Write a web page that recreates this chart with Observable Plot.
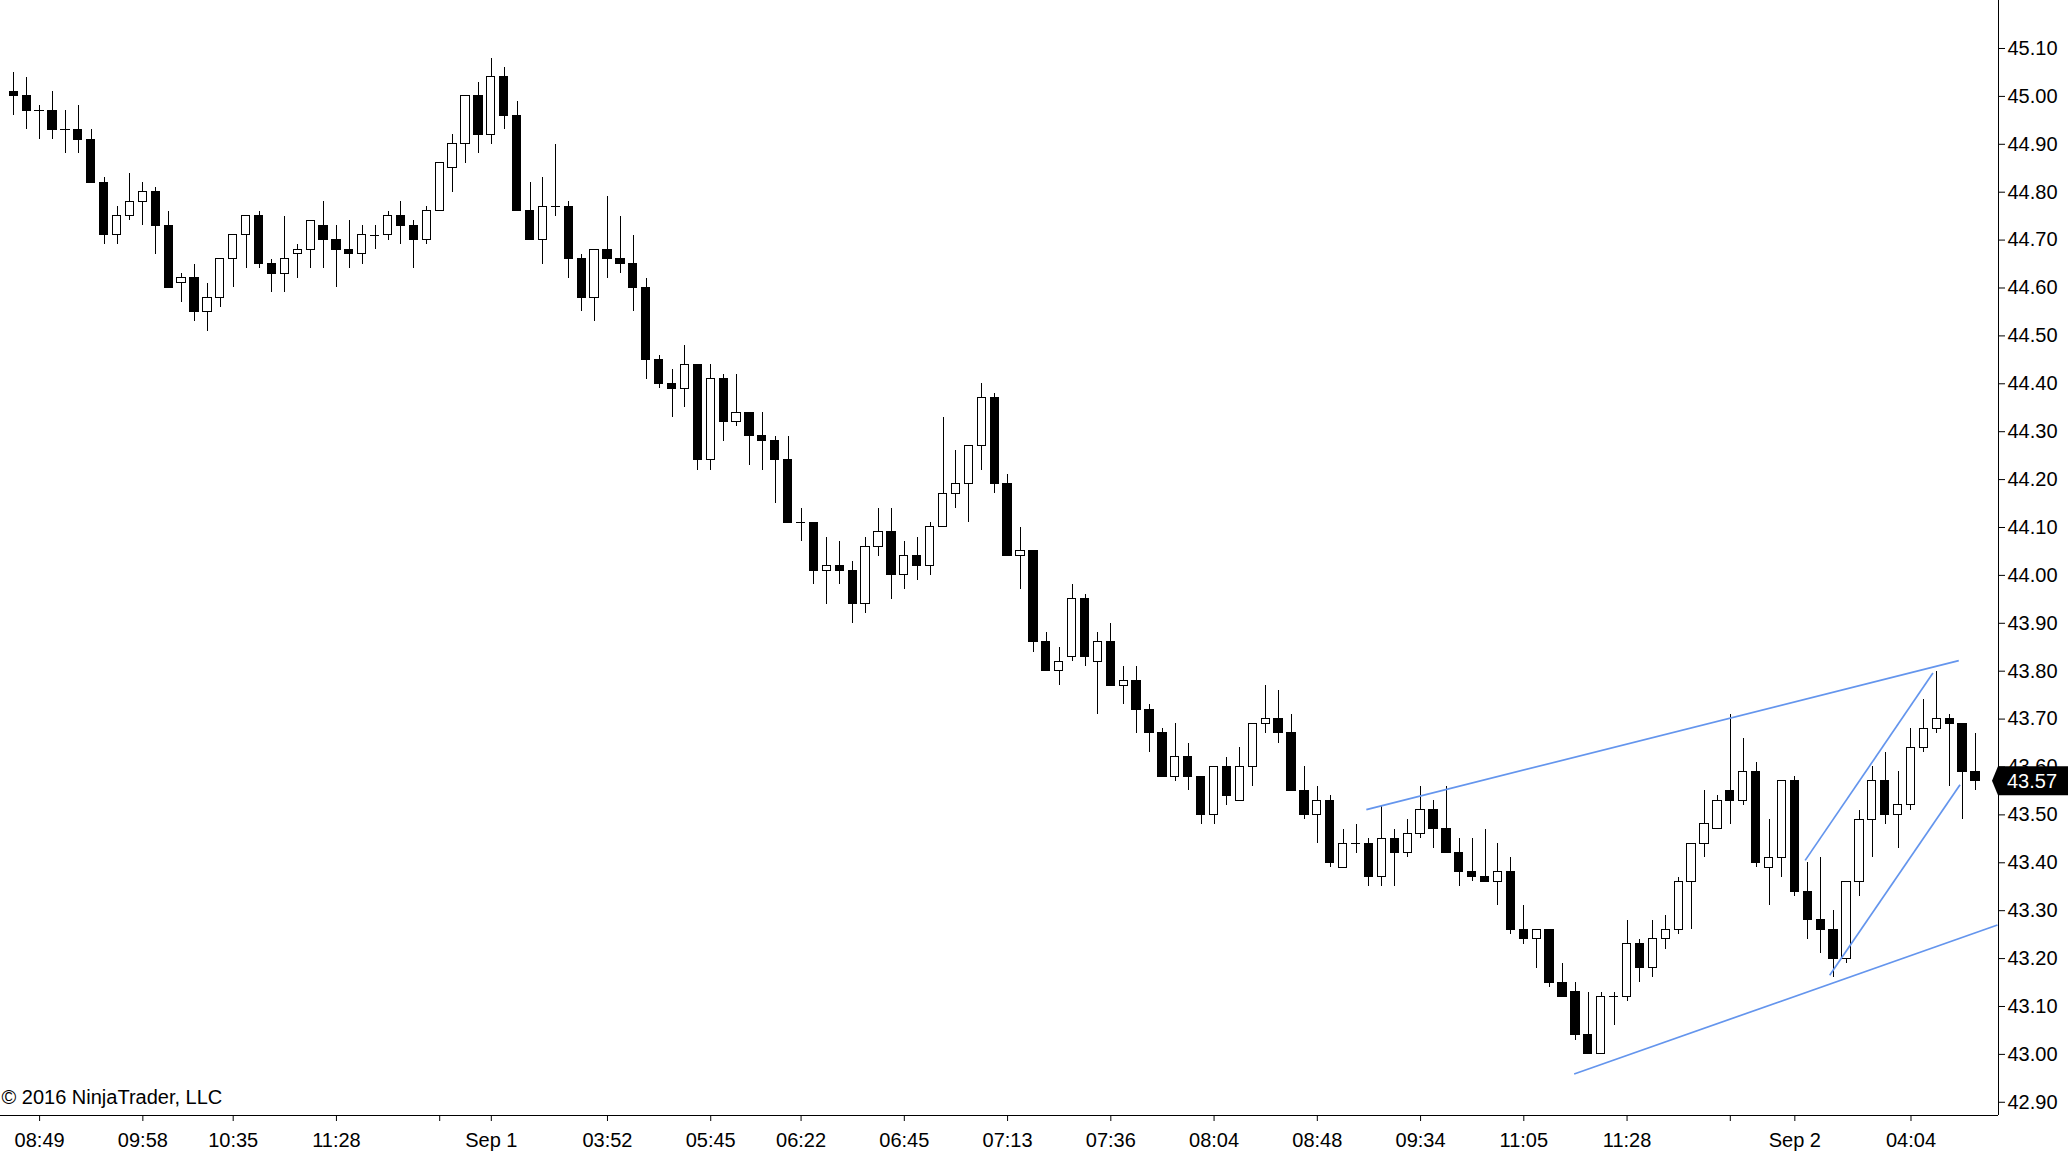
<!DOCTYPE html>
<html><head><meta charset="utf-8">
<script src="https://cdn.jsdelivr.net/npm/d3@7"></script>
<script src="https://cdn.jsdelivr.net/npm/@observablehq/plot@0.6"></script>
<style>html,body{margin:0;padding:0;background:#fff;overflow:hidden} svg{display:block}</style>
</head><body><div id="chart"></div>
<script>
// OHLC of 153 bars
const opens = [45.01,45.00,44.97,44.97,44.93,44.93,44.91,44.82,44.71,44.75,44.78,44.80,44.73,44.61,44.62,44.55,44.58,44.66,44.71,44.75,
44.65,44.63,44.67,44.68,44.73,44.70,44.68,44.67,44.71,44.71,44.75,44.73,44.70,44.76,44.85,44.90,45.00,44.92,45.04,44.96,
44.76,44.70,44.77,44.77,44.66,44.58,44.68,44.66,44.65,44.60,44.45,44.40,44.39,44.44,44.24,44.41,44.32,44.34,44.29,44.28,
44.24,44.11,44.11,44.01,44.02,44.01,43.94,44.06,44.09,44.00,44.04,44.02,44.10,44.17,44.19,44.27,44.37,44.19,44.04,44.05,
43.86,43.80,43.83,43.95,43.82,43.86,43.77,43.78,43.72,43.67,43.58,43.62,43.58,43.50,43.60,43.53,43.60,43.69,43.70,43.67,
43.55,43.50,43.53,43.39,43.44,43.44,43.37,43.45,43.42,43.46,43.51,43.47,43.42,43.38,43.37,43.36,43.38,43.26,43.24,43.26,
43.15,43.13,43.04,43.00,43.12,43.12,43.23,43.18,43.24,43.26,43.36,43.44,43.47,43.55,43.53,43.59,43.39,43.41,43.57,43.34,
43.28,43.26,43.20,43.36,43.49,43.57,43.50,43.52,43.64,43.68,43.70,43.69,43.59];
const highs = [45.05,45.04,44.98,45.01,44.97,44.98,44.93,44.83,44.77,44.84,44.82,44.81,44.76,44.63,44.65,44.61,44.66,44.71,44.75,44.76,
44.66,44.75,44.69,44.74,44.78,44.73,44.74,44.73,44.73,44.76,44.78,44.74,44.77,44.86,44.92,45.00,45.03,45.08,45.06,44.99,
44.82,44.83,44.90,44.78,44.67,44.68,44.79,44.75,44.71,44.62,44.46,44.43,44.48,44.44,44.44,44.42,44.42,44.34,44.34,44.29,
44.29,44.14,44.11,44.08,44.07,44.03,44.08,44.14,44.14,44.07,44.08,44.11,44.33,44.26,44.27,44.40,44.38,44.21,44.10,44.05,
43.88,43.85,43.98,43.96,43.88,43.90,43.81,43.81,43.73,43.68,43.69,43.65,43.58,43.60,43.62,43.64,43.69,43.77,43.76,43.71,
43.60,43.56,43.54,43.47,43.48,43.45,43.52,43.47,43.49,43.56,43.53,43.56,43.45,43.45,43.47,43.44,43.41,43.31,43.26,43.26,
43.19,43.15,43.13,43.13,43.13,43.28,43.24,43.28,43.29,43.37,43.44,43.55,43.54,43.71,43.66,43.61,43.49,43.57,43.58,43.40,
43.41,43.30,43.36,43.51,43.60,43.63,43.59,43.68,43.74,43.80,43.71,43.69,43.67];
const lows = [44.96,44.93,44.91,44.91,44.88,44.88,44.82,44.69,44.69,44.74,44.73,44.67,44.60,44.57,44.53,44.51,44.56,44.60,44.64,44.64,
44.59,44.59,44.62,44.64,44.64,44.60,44.64,44.65,44.68,44.70,44.69,44.64,44.69,44.76,44.80,44.86,44.88,44.90,44.93,44.76,
44.70,44.65,44.75,44.62,44.55,44.53,44.62,44.63,44.55,44.41,44.39,44.33,44.35,44.22,44.22,44.28,44.31,44.23,44.22,44.15,
44.11,44.07,43.98,43.94,43.98,43.90,43.92,44.04,43.95,43.97,43.99,44.00,44.10,44.14,44.11,44.22,44.17,44.04,43.97,43.84,
43.80,43.77,43.82,43.81,43.71,43.77,43.73,43.67,43.63,43.58,43.57,43.55,43.48,43.48,43.52,43.53,43.56,43.67,43.65,43.55,
43.49,43.44,43.39,43.39,43.42,43.35,43.35,43.35,43.41,43.45,43.43,43.42,43.35,43.36,43.36,43.31,43.25,43.23,43.18,43.14,
43.12,43.03,43.00,43.00,43.06,43.11,43.15,43.16,43.22,43.25,43.26,43.41,43.47,43.48,43.52,43.39,43.31,43.37,43.33,43.24,
43.21,43.16,43.19,43.33,43.41,43.48,43.43,43.51,43.63,43.67,43.56,43.49,43.55];
const closes = [45.00,44.97,44.97,44.93,44.93,44.91,44.82,44.71,44.75,44.78,44.80,44.73,44.60,44.62,44.55,44.58,44.66,44.71,44.75,44.65,
44.63,44.66,44.68,44.74,44.70,44.68,44.67,44.71,44.71,44.75,44.73,44.70,44.76,44.86,44.90,45.00,44.92,45.04,44.96,44.76,
44.70,44.77,44.77,44.66,44.58,44.68,44.66,44.65,44.60,44.45,44.40,44.39,44.44,44.24,44.41,44.32,44.34,44.29,44.28,44.24,
44.11,44.11,44.01,44.02,44.01,43.94,44.06,44.09,44.00,44.04,44.02,44.10,44.17,44.19,44.27,44.37,44.19,44.04,44.05,43.86,
43.80,43.82,43.95,43.83,43.86,43.77,43.78,43.72,43.67,43.58,43.62,43.58,43.50,43.60,43.54,43.60,43.69,43.70,43.67,43.55,
43.50,43.53,43.40,43.44,43.44,43.37,43.45,43.42,43.46,43.51,43.47,43.42,43.38,43.37,43.36,43.38,43.26,43.24,43.26,43.15,
43.12,43.04,43.00,43.12,43.12,43.23,43.18,43.24,43.26,43.36,43.44,43.48,43.53,43.53,43.59,43.40,43.41,43.57,43.34,43.28,
43.26,43.20,43.36,43.49,43.57,43.50,43.52,43.64,43.68,43.70,43.69,43.59,43.57];

// x-axis ticks (bar index) and their labels
const xTickIdx = [2,10,17,25,33,37,46,54,61,69,77,85,93,101,109,117,125,133,138,147];
const xTickLabels = ["08:49","09:58","10:35","11:28","","Sep 1","03:52","05:45","06:22","06:45","07:13","07:36","08:04","08:48","09:34","11:05","11:28","","Sep 2","04:04"];
// y-axis ticks
const yTicks = [42.9,43.0,43.1,43.2,43.3,43.4,43.5,43.6,43.7,43.8,43.9,44.0,44.1,44.2,44.3,44.4,44.5,44.6,44.7,44.8,44.9,45.0,45.1];

// drawn trend lines (bar index, price)
const trendX1 = [104.8,120.9,138.8,140.7];
const trendY1 = [43.511,42.959,43.405,43.165];
const trendX2 = [150.7,153.7,148.7,150.8];
const trendY2 = [43.822,43.270,43.796,43.563];

const copyright = "© 2016 NinjaTrader, LLC";

const xDomain = [-1.03, 153.78];
const yDomain = [42.8724, 45.2002];

const bars = opens.map((o, i) => ({i, o, h: highs[i], l: lows[i], c: closes[i]}));
const upBodies = bars.filter(d => d.c > d.o);
const downBodies = bars.filter(d => d.c < d.o);
const dojis = bars.filter(d => d.c === d.o);
const lines = trendX1.map((x1, k) => ({x1, y1: trendY1[k], x2: trendX2[k], y2: trendY2[k]}));
const tickLabel = new Map(xTickIdx.map((d, k) => [d, xTickLabels[k]]));

const font = "'Liberation Sans', Arial, sans-serif";
const hw = 0.32;

const chart = Plot.plot({
  width: 2068, height: 1158,
  marginLeft: 0, marginRight: 70, marginTop: 0, marginBottom: 43,
  style: {fontFamily: font, fontSize: "20px", color: "#000", background: "#fff"},
  x: {type: "linear", domain: xDomain},
  y: {type: "linear", domain: yDomain},
  marks: [
    Plot.ruleX(bars, {x: "i", y1: "l", y2: "h", stroke: "#000", strokeWidth: 1, shapeRendering: "crispEdges"}),
    Plot.rect(upBodies, {x1: d => d.i - hw, x2: d => d.i + hw, y1: "o", y2: "c", fill: "#fff", stroke: "#000", strokeWidth: 1, shapeRendering: "crispEdges"}),
    Plot.rect(downBodies, {x1: d => d.i - hw, x2: d => d.i + hw, y1: "o", y2: "c", fill: "#000", stroke: "#000", strokeWidth: 1, shapeRendering: "crispEdges"}),
    Plot.ruleY(dojis, {y: "o", x1: d => d.i - hw - 0.04, x2: d => d.i + hw + 0.04, stroke: "#000", strokeWidth: 1, shapeRendering: "crispEdges"}),
    Plot.link(lines, {x1: "x1", y1: "y1", x2: "x2", y2: "y2", stroke: "#6495ed", strokeWidth: 1.7}),
    Plot.axisY({anchor: "right", ticks: yTicks, tickFormat: d => d.toFixed(2), tickSize: 6, tickPadding: 3, fontSize: 20, label: null, stroke: "#000"}),
    Plot.axisX({anchor: "bottom", ticks: xTickIdx, tickFormat: d => tickLabel.get(d), tickSize: 6, tickPadding: 11, fontSize: 20, label: null, stroke: "#000"}),
    Plot.ruleX([xDomain[1]], {stroke: "#000", strokeWidth: 1, shapeRendering: "crispEdges"}),
    Plot.ruleY([yDomain[0]], {stroke: "#000", strokeWidth: 1, shapeRendering: "crispEdges"}),
    Plot.text([copyright], {text: d => d, frameAnchor: "bottom-left", textAnchor: "start", dy: -12, dx: 1, fontSize: 20, fill: "#000"})
  ]
});

// last price marker, positioned through the plot's own scales
const xs = chart.scale("x"), ys = chart.scale("y");
const last = closes[closes.length - 1];
const yy = ys.apply(last);
const ax = xs.apply(xDomain[1]);
const g = d3.select(chart).append("g");
const hh = 14.5;
g.append("path")
  .attr("d", `M${ax - 6},${yy} L${ax},${yy - hh} L2068,${yy - hh} L2068,${yy + hh} L${ax},${yy + hh} Z`)
  .attr("fill", "#000");
g.append("text")
  .attr("x", ax + 9).attr("y", yy).attr("dy", "0.35em")
  .attr("text-anchor", "start")
  .attr("fill", "#fff").attr("font-family", font).attr("font-size", 20)
  .text(last.toFixed(2));

document.getElementById("chart").appendChild(chart);
</script>
</body></html>
